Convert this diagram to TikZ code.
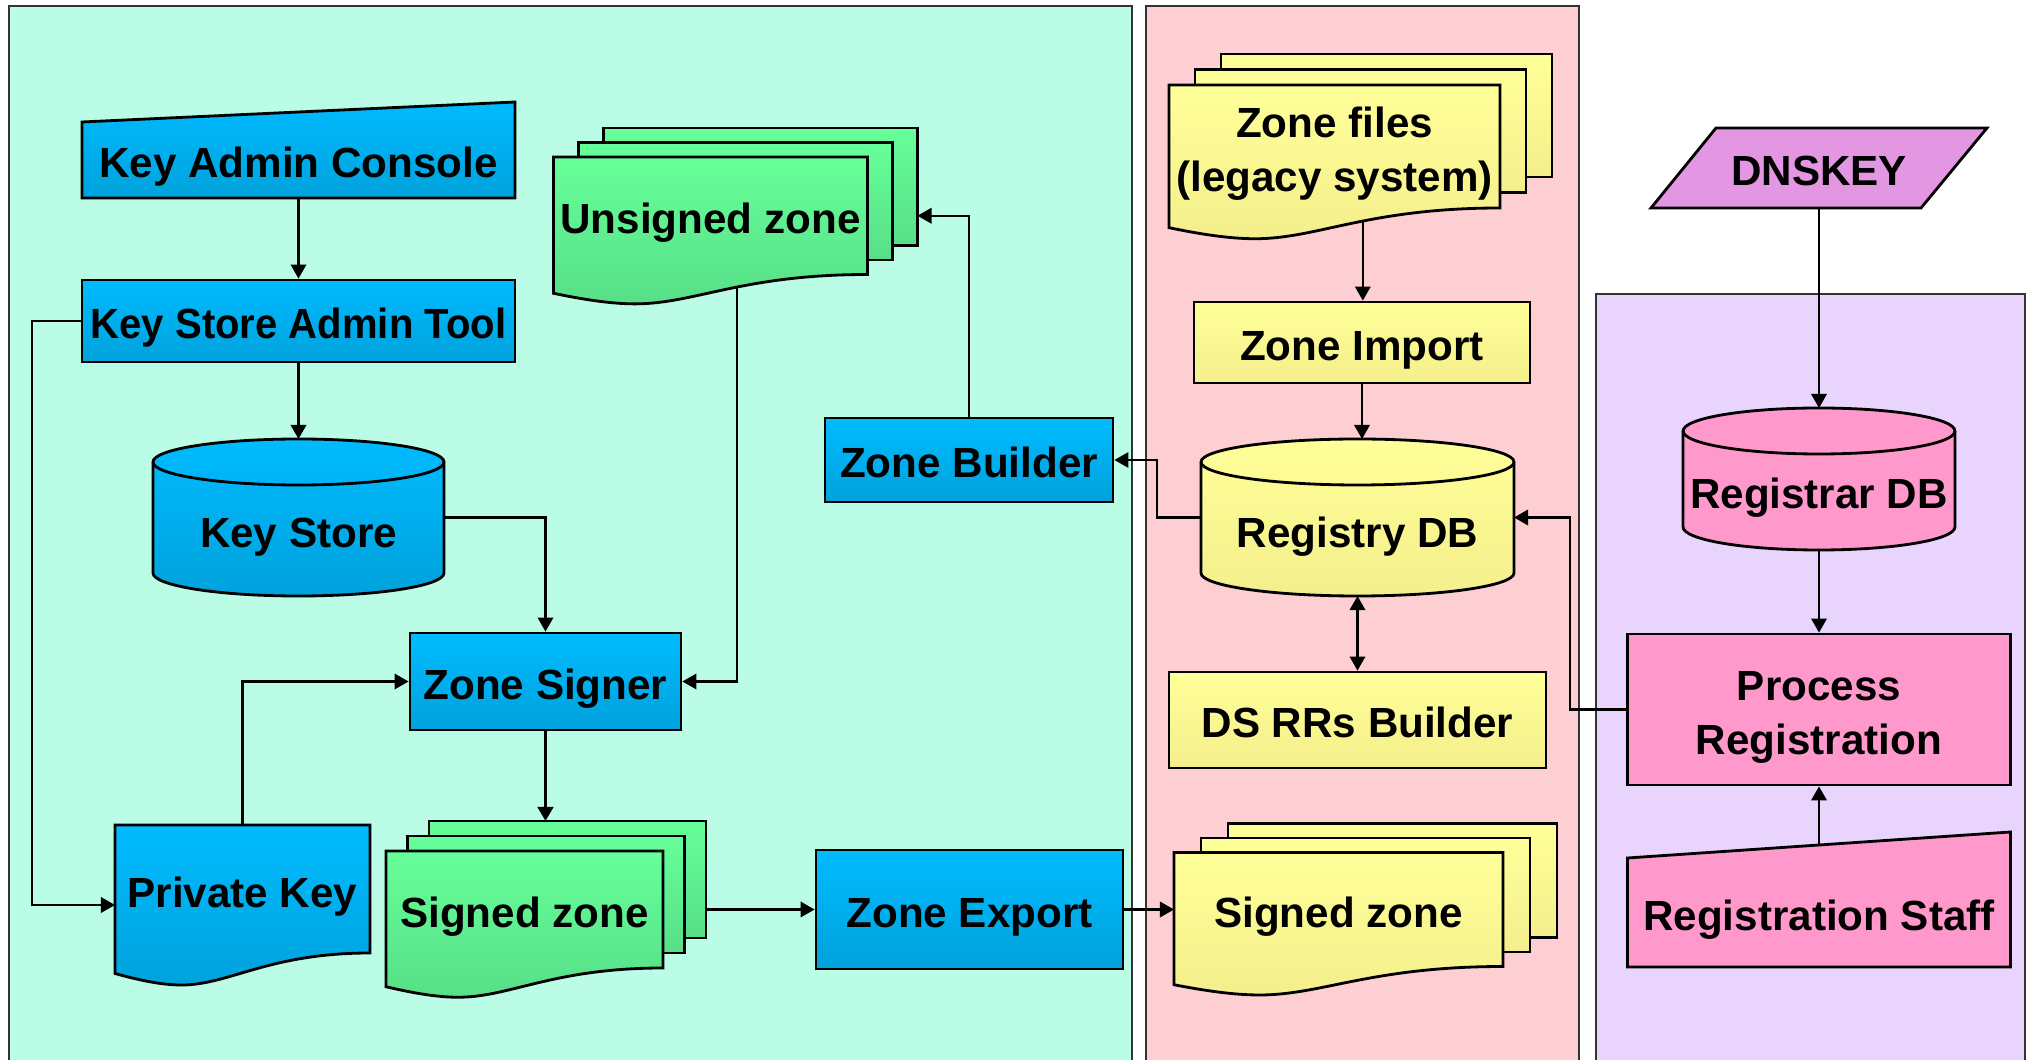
\documentclass[tikz,border=0pt]{standalone}
\usepackage{fontspec}
\usepackage{graphicx}
\setmainfont{Liberation Sans}
\usetikzlibrary{arrows.meta,calc,backgrounds,positioning}

\definecolor{panelgreen}{HTML}{BAFCE5}
\definecolor{panelpink}{HTML}{FDCFD3}
\definecolor{panelviolet}{HTML}{E9D4FD}
\definecolor{bluetop}{HTML}{00BBFF}
\definecolor{bluebot}{HTML}{00A2DC}
\definecolor{greentop}{HTML}{66FF99}
\definecolor{greenbot}{HTML}{57DF88}
\definecolor{yellowtop}{HTML}{FFFF99}
\definecolor{yellowbot}{HTML}{F4EF8C}
\definecolor{regpink}{HTML}{FF99CC}
\definecolor{keyviolet}{HTML}{E397E3}

\tikzset{
  procbox/.style={draw, line width=0.8pt, inner sep=2pt, align=center, text height=0.45cm, text depth=0.09cm, font=\bfseries\fontsize{12}{15.3}\selectfont},
  bluebox/.style={procbox, top color=bluetop, bottom color=bluebot},
  yellowbox/.style={procbox, top color=yellowtop, bottom color=yellowbot},
  pinkbox/.style={procbox, fill=regpink},
  textnode/.style={inner sep=2pt, outer sep=0pt, align=center, text height=0.45cm, text depth=0.09cm, font=\bfseries\fontsize{12}{15.3}\selectfont},
  twolines/.style={text height=0.99cm, text depth=0.09cm},
  dbtext/.style={text height=0.69cm, text depth=0.09cm},
  panel/.style={draw=black!80, line width=0.7pt},
  blueshade/.style={draw, line width=0.8pt, top color=bluetop, bottom color=bluebot},
  greenshade/.style={draw, line width=0.8pt, top color=greentop, bottom color=greenbot},
  yellowshade/.style={draw, line width=0.8pt, top color=yellowtop, bottom color=yellowbot},
  pinkshade/.style={draw, line width=0.8pt, fill=regpink},
  arr/.style={-{Triangle[length=4pt,width=4.4pt]}, line width=0.6pt},
  arrboth/.style={{Triangle[length=4pt,width=4.4pt]}-{Triangle[length=4pt,width=4.4pt]}, line width=0.6pt},
}

% document with wavy bottom, drawn behind the text node #1
\newcommand{\docwave}[2]{%
  \path[#2] let \p1=(#1.north west), \p2=(#1.south east) in
    (\x1,\y1) -- (\x2,\y1) -- (\x2,\y2)
    .. controls (\x1+0.6*\x2-0.6*\x1,\y2) and (\x1+0.45*\x2-0.45*\x1,\y2-0.25*\y1+0.25*\y2) .. (\x1+0.26*\x2-0.26*\x1,\y2-0.25*\y1+0.25*\y2)
    .. controls (\x1+0.18*\x2-0.18*\x1,\y2-0.25*\y1+0.25*\y2) and (\x1+0.09*\x2-0.09*\x1,\y2-0.21*\y1+0.21*\y2) .. (\x1,\y2-0.16*\y1+0.16*\y2)
    -- cycle;
  \path let \p1=(#1.north west), \p2=(#1.south east) in
    (\x1+0.5855*\x2-0.5855*\x1,\y2-0.106*\y1+0.106*\y2) coordinate (#1-w);}

% two copies behind a document
\newcommand{\docstack}[4]{%
  \foreach \k in {2,1}
    \path[#4] ([shift={(\k*#2,\k*#3)}]#1.north west) rectangle ([shift={(\k*#2,\k*#3)}]#1.south east);
  \coordinate (#1-bnw) at ([shift={(2*#2,2*#3)}]#1.north west);
  \coordinate (#1-bse) at ([shift={(2*#2,2*#3)}]#1.south east);}

% database cylinder
\newcommand{\cylbody}[2]{%
  \path[#2] let \p1=(#1.north west), \p2=(#1.south east) in
    (\x1,\y1-0.23cm) -- (\x1,\y2+0.23cm)
    arc[start angle=180, end angle=360, x radius={(\x2-\x1)/2}, y radius=0.23cm]
    -- (\x2,\y1-0.23cm)
    arc[start angle=0, end angle=180, x radius={(\x2-\x1)/2}, y radius=0.23cm] -- cycle;
  \draw[line width=0.8pt] let \p1=(#1.north west), \p2=(#1.south east) in
    (\x1,\y1-0.23cm) arc[start angle=180, end angle=360, x radius={(\x2-\x1)/2}, y radius=0.23cm];}

% manual input
\newcommand{\manualin}[3]{%
  \path[#3] (#1.south west) -- (#1.north west) -- ([yshift=#2]#1.north east) -- (#1.south east) -- cycle;
  \coordinate (#1-top) at ($(#1.north west)!0.5!([yshift=#2]#1.north east)$);}

\begin{document}
\begin{tikzpicture}[x=1cm,y=1cm]
    \useasboundingbox (0,0) rectangle (20.31,-10.60);

    % signing side
    \node[textnode, minimum width=4.33cm, minimum height=0.76cm] (kac) at (2.985,-1.60) {Key Admin Console};
    \node[bluebox, minimum width=4.33cm, minimum height=0.82cm] (ksat) at (2.985,-3.21) {\scalebox{0.95}[1]{Key Store Admin Tool}};
    \node[textnode, dbtext, minimum width=2.91cm, minimum height=1.57cm] (ks) at (2.985,-5.175) {Key Store};
    \node[bluebox, minimum width=2.71cm, minimum height=0.97cm] (signer) at (5.455,-6.815) {Zone Signer};
    \node[textnode, minimum width=2.55cm, minimum height=1.28cm] (pk) at (2.425,-8.89) {Private Key};
    \node[textnode, minimum width=2.77cm, minimum height=1.17cm] (sz) at (5.245,-9.095) {Signed zone};
    \node[bluebox, minimum width=3.07cm, minimum height=1.19cm] (zexp) at (9.695,-9.095) {Zone Export};
    \node[bluebox, minimum width=2.88cm, minimum height=0.84cm] (zb) at (9.69,-4.60) {Zone Builder};
    \node[textnode, minimum width=3.13cm, minimum height=1.175cm] (usz) at (7.105,-2.1575) {Unsigned zone};

    % registry side
    \node[textnode, twolines, minimum width=3.31cm, minimum height=1.23cm] (zf) at (13.345,-1.465) {Zone files\\(legacy system)};
    \node[yellowbox, minimum width=3.36cm, minimum height=0.81cm] (zimp) at (13.62,-3.425) {Zone Import};
    \node[textnode, dbtext, minimum width=3.13cm, minimum height=1.57cm] (rdb) at (13.575,-5.175) {Registry DB};
    \node[yellowbox, minimum width=3.77cm, minimum height=0.96cm] (ds) at (13.575,-7.20) {DS RRs Builder};
    \node[textnode, minimum width=3.29cm, minimum height=1.14cm] (ysz) at (13.385,-9.095) {Signed zone};

    % registrar side
    \node[textnode, minimum width=3.36cm, minimum height=0.80cm] (dk) at (18.19,-1.68) {DNSKEY};
    \node[textnode, dbtext, minimum width=2.69cm, minimum height=1.42cm] (rgdb) at (18.19,-4.79) {Registrar DB};
    \node[pinkbox, twolines, minimum width=3.83cm, minimum height=1.51cm] (pr) at (18.19,-7.095) {Process\\Registration};
    \node[textnode, minimum width=3.83cm, minimum height=1.09cm] (staff) at (18.19,-9.125) {Registration Staff};

    \begin{scope}[on background layer]
        \path[panel, fill=panelgreen] (0.09,-0.06) rectangle (11.32,-10.8);
        \path[panel, fill=panelpink] (11.46,-0.06) rectangle (15.79,-10.8);
        \path[panel, fill=panelviolet] (15.96,-2.94) rectangle (20.25,-10.8);

        \manualin{kac}{0.20cm}{blueshade}
        \cylbody{ks}{blueshade}
        \docwave{pk}{blueshade}
        \docstack{sz}{0.215}{0.15}{greenshade}
        \docwave{sz}{greenshade}
        \docstack{usz}{0.25}{0.145}{greenshade}
        \docwave{usz}{greenshade}

        \docstack{zf}{0.26}{0.155}{yellowshade}
        \docwave{zf}{yellowshade}
        \cylbody{rdb}{yellowshade}
        \docstack{ysz}{0.27}{0.145}{yellowshade}
        \docwave{ysz}{yellowshade}

        \path[draw, line width=0.8pt, fill=keyviolet] ([xshift=0.65cm]dk.north west) -- (dk.north east) -- ([xshift=-0.66cm]dk.south east) -- (dk.south west) -- cycle;
        \cylbody{rgdb}{pinkshade}
        \manualin{staff}{0.26cm}{pinkshade}
    \end{scope}

    \draw[arr] (kac) -- (ksat);
    \draw[arr] (ksat) -- (ks);
    \draw[arr] (ksat.west) -- ++(-0.49,0) |- ([yshift=-0.16cm]pk.west);
    \draw[arr] (ks.east) -| (signer.north);
    \draw[arr] (usz-w) |- (signer.east);
    \draw[arr] (pk.north) |- (signer.west);
    \draw[arr, line width=0.9pt] (signer.south) -- (signer.south |- sz-bnw);
    \draw[arr] (sz-bse |- sz.east) -- (zexp.west);
    \draw[arr] (zb.north) |- (usz-bse |- usz.east);
    \draw[arr] (rdb.west) -- ++(-0.44,0) |- (zb.east);
    \draw[arr] (zexp) -- (ysz);

    \draw[arr] (zf-w) -- (zf-w |- zimp.north);
    \draw[arr] (zimp.south) -- (zimp.south |- rdb.north);
    \draw[arrboth] (rdb) -- (ds);

    \draw[arr] (dk) -- (rgdb);
    \draw[arr] (rgdb) -- (pr);
    \draw[arr] (staff-top) -- (pr.south);
    \draw[arr] (pr.west) -- ++(-0.56,0) |- (rdb.east);
\end{tikzpicture}
\end{document}
